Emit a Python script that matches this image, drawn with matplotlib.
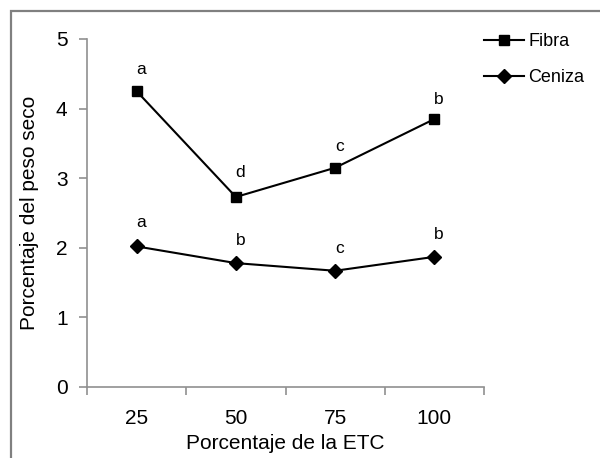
import matplotlib
matplotlib.use("Agg")
import matplotlib.pyplot as plt
from matplotlib.patches import Rectangle
from matplotlib.lines import Line2D

categories = ["25", "50", "75", "100"]
fibra = [4.25, 2.73, 3.15, 3.85]
ceniza = [2.02, 1.78, 1.67, 1.87]
fibra_letters = ["a", "d", "c", "b"]
ceniza_letters = ["a", "b", "c", "b"]
fibra_label_y = [4.56, 3.08, 3.45, 4.13]
ceniza_label_y = [2.36, 2.11, 1.99, 2.19]

plt.rcParams['font.family'] = ['Liberation Sans', 'DejaVu Sans']

W, H = 600, 458
fig = plt.figure(figsize=(W / 100, H / 100), dpi=100)

# outer chart border (grey), only top/left visible in crop
fig.patches.append(Rectangle((11 / W, -0.1), 1.2, 1 - 11 / H + 0.1,
                             transform=fig.transFigure, fill=False,
                             edgecolor='#808080', linewidth=1.6))

ax = fig.add_axes([87 / W, 1 - 387 / H, (484 - 87) / W, (387 - 39) / H])
x = list(range(len(categories)))

ax.plot(x, fibra, color='black', linewidth=1.5, marker='s', markersize=7.5,
        label='Fibra')
ax.plot(x, ceniza, color='black', linewidth=1.5, marker='D', markersize=7.5,
        label='Ceniza')

for i in x:
    ax.text(i + 0.045, fibra_label_y[i], fibra_letters[i], ha='center',
            va='center', fontsize=12.5)
    ax.text(i + 0.045, ceniza_label_y[i], ceniza_letters[i], ha='center',
            va='center', fontsize=12.5)

ax.set_xlim(-0.5, len(categories) - 0.5)
ax.set_ylim(0, 5)
ax.set_yticks([0, 1, 2, 3, 4, 5])
ax.set_xticks([i - 0.5 for i in range(len(categories) + 1)])
ax.set_xticklabels([])
ax.set_xticks(x, minor=True)
ax.set_xticklabels(categories, minor=True)
ax.tick_params(axis='x', which='minor', length=0, pad=16, labelsize=15)
ax.tick_params(axis='x', which='major', length=6, width=1.2, color='#909090')
ax.tick_params(axis='y', length=6, width=1.2, color='#909090', labelsize=15,
               pad=8)

for s in ['top', 'right']:
    ax.spines[s].set_visible(False)
for s in ['left', 'bottom']:
    ax.spines[s].set_color('#909090')
    ax.spines[s].set_linewidth(1.2)

ax.set_xlabel('Porcentaje de la ETC', fontsize=15, labelpad=4)
ax.set_ylabel('Porcentaje del peso seco', fontsize=15, labelpad=12)

handles = [Line2D([], [], color='black', linewidth=1.5, marker='s', markersize=7.5),
           Line2D([], [], color='black', linewidth=1.5, marker='D', markersize=7.5)]
fig.legend(handles, ['Fibra', 'Ceniza'], loc='upper left',
           bbox_to_anchor=(468 / W, 1 - 17 / H), frameon=False, fontsize=13,
           handlelength=2.2, handletextpad=0.25, labelspacing=1.05)

fig.savefig('out.png', dpi=100)
